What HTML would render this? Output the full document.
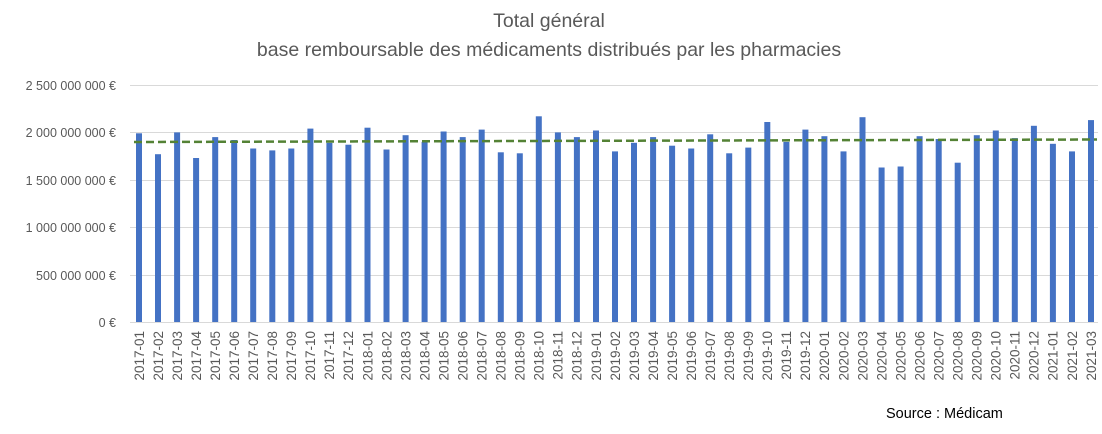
<!DOCTYPE html><html><head><meta charset="utf-8"><style>body{margin:0;background:#fff}svg{display:block}</style></head><body>
<svg width="1102" height="434" xmlns="http://www.w3.org/2000/svg" font-family="Liberation Sans, sans-serif">
<text x="549" y="27" text-anchor="middle" font-size="19.5" fill="#595959">Total général</text>
<text x="549" y="56" text-anchor="middle" font-size="19.5" fill="#595959">base remboursable des médicaments distribués par les pharmacies</text>
<g stroke="#d9d9d9" stroke-width="1">
<line x1="130" x2="1098" y1="85.5" y2="85.5"/><line x1="130" x2="1098" y1="132.5" y2="132.5"/><line x1="130" x2="1098" y1="180.5" y2="180.5"/><line x1="130" x2="1098" y1="227.5" y2="227.5"/><line x1="130" x2="1098" y1="275.5" y2="275.5"/><line x1="130" x2="1098" y1="322.5" y2="322.5"/>
</g>
<g font-size="12.5" fill="#595959" text-anchor="end">
<text x="116" y="90">2 500 000 000 €</text><text x="116" y="137">2 000 000 000 €</text><text x="116" y="185">1 500 000 000 €</text><text x="116" y="232">1 000 000 000 €</text><text x="116" y="280">500 000 000 €</text><text x="116" y="327">0 €</text>
</g>
<g transform="translate(0,322) scale(1,-1)" fill="#4472c4">
<rect x="136.0" width="6" height="188.7"/><rect x="155.0" width="6" height="167.8"/><rect x="174.1" width="6" height="189.6"/><rect x="193.1" width="6" height="164.0"/><rect x="212.2" width="6" height="184.9"/><rect x="231.2" width="6" height="182.0"/><rect x="250.2" width="6" height="173.5"/><rect x="269.3" width="6" height="171.6"/><rect x="288.3" width="6" height="173.5"/><rect x="307.4" width="6" height="193.4"/><rect x="326.4" width="6" height="179.2"/><rect x="345.4" width="6" height="177.3"/><rect x="364.5" width="6" height="194.3"/><rect x="383.5" width="6" height="172.5"/><rect x="402.6" width="6" height="186.8"/><rect x="421.6" width="6" height="180.1"/><rect x="440.6" width="6" height="190.5"/><rect x="459.7" width="6" height="184.9"/><rect x="478.7" width="6" height="192.4"/><rect x="497.8" width="6" height="169.7"/><rect x="516.8" width="6" height="168.7"/><rect x="535.8" width="6" height="205.7"/><rect x="554.9" width="6" height="189.6"/><rect x="573.9" width="6" height="184.9"/><rect x="593.0" width="6" height="191.5"/><rect x="612.0" width="6" height="170.6"/><rect x="631.0" width="6" height="179.2"/><rect x="650.1" width="6" height="184.9"/><rect x="669.1" width="6" height="176.3"/><rect x="688.2" width="6" height="173.5"/><rect x="707.2" width="6" height="187.7"/><rect x="726.2" width="6" height="168.7"/><rect x="745.3" width="6" height="174.4"/><rect x="764.3" width="6" height="200.0"/><rect x="783.4" width="6" height="180.1"/><rect x="802.4" width="6" height="192.4"/><rect x="821.4" width="6" height="185.8"/><rect x="840.5" width="6" height="170.6"/><rect x="859.5" width="6" height="204.8"/><rect x="878.6" width="6" height="154.5"/><rect x="897.6" width="6" height="155.5"/><rect x="916.6" width="6" height="185.8"/><rect x="935.7" width="6" height="183.0"/><rect x="954.7" width="6" height="159.3"/><rect x="973.8" width="6" height="186.8"/><rect x="992.8" width="6" height="191.5"/><rect x="1011.8" width="6" height="183.9"/><rect x="1030.9" width="6" height="196.2"/><rect x="1049.9" width="6" height="178.2"/><rect x="1069.0" width="6" height="170.6"/><rect x="1088.0" width="6" height="201.9"/>
</g>
<line x1="134" y1="142" x2="1097" y2="139.5" stroke="#548235" stroke-width="2.5" stroke-dasharray="8,4"/>
<g font-size="13.5" fill="#595959" text-anchor="end">
<text transform="translate(143.8,331) rotate(-90)">2017-01</text><text transform="translate(162.8,331) rotate(-90)">2017-02</text><text transform="translate(181.9,331) rotate(-90)">2017-03</text><text transform="translate(200.9,331) rotate(-90)">2017-04</text><text transform="translate(220.0,331) rotate(-90)">2017-05</text><text transform="translate(239.0,331) rotate(-90)">2017-06</text><text transform="translate(258.0,331) rotate(-90)">2017-07</text><text transform="translate(277.1,331) rotate(-90)">2017-08</text><text transform="translate(296.1,331) rotate(-90)">2017-09</text><text transform="translate(315.2,331) rotate(-90)">2017-10</text><text transform="translate(334.2,331) rotate(-90)">2017-11</text><text transform="translate(353.2,331) rotate(-90)">2017-12</text><text transform="translate(372.3,331) rotate(-90)">2018-01</text><text transform="translate(391.3,331) rotate(-90)">2018-02</text><text transform="translate(410.4,331) rotate(-90)">2018-03</text><text transform="translate(429.4,331) rotate(-90)">2018-04</text><text transform="translate(448.4,331) rotate(-90)">2018-05</text><text transform="translate(467.5,331) rotate(-90)">2018-06</text><text transform="translate(486.5,331) rotate(-90)">2018-07</text><text transform="translate(505.6,331) rotate(-90)">2018-08</text><text transform="translate(524.6,331) rotate(-90)">2018-09</text><text transform="translate(543.6,331) rotate(-90)">2018-10</text><text transform="translate(562.7,331) rotate(-90)">2018-11</text><text transform="translate(581.7,331) rotate(-90)">2018-12</text><text transform="translate(600.8,331) rotate(-90)">2019-01</text><text transform="translate(619.8,331) rotate(-90)">2019-02</text><text transform="translate(638.8,331) rotate(-90)">2019-03</text><text transform="translate(657.9,331) rotate(-90)">2019-04</text><text transform="translate(676.9,331) rotate(-90)">2019-05</text><text transform="translate(696.0,331) rotate(-90)">2019-06</text><text transform="translate(715.0,331) rotate(-90)">2019-07</text><text transform="translate(734.0,331) rotate(-90)">2019-08</text><text transform="translate(753.1,331) rotate(-90)">2019-09</text><text transform="translate(772.1,331) rotate(-90)">2019-10</text><text transform="translate(791.2,331) rotate(-90)">2019-11</text><text transform="translate(810.2,331) rotate(-90)">2019-12</text><text transform="translate(829.2,331) rotate(-90)">2020-01</text><text transform="translate(848.3,331) rotate(-90)">2020-02</text><text transform="translate(867.3,331) rotate(-90)">2020-03</text><text transform="translate(886.4,331) rotate(-90)">2020-04</text><text transform="translate(905.4,331) rotate(-90)">2020-05</text><text transform="translate(924.4,331) rotate(-90)">2020-06</text><text transform="translate(943.5,331) rotate(-90)">2020-07</text><text transform="translate(962.5,331) rotate(-90)">2020-08</text><text transform="translate(981.6,331) rotate(-90)">2020-09</text><text transform="translate(1000.6,331) rotate(-90)">2020-10</text><text transform="translate(1019.6,331) rotate(-90)">2020-11</text><text transform="translate(1038.7,331) rotate(-90)">2020-12</text><text transform="translate(1057.7,331) rotate(-90)">2021-01</text><text transform="translate(1076.8,331) rotate(-90)">2021-02</text><text transform="translate(1095.8,331) rotate(-90)">2021-03</text>
</g>
<text x="886" y="418" font-size="14.5" fill="#000">Source : Médicam</text>
</svg>
</body></html>
